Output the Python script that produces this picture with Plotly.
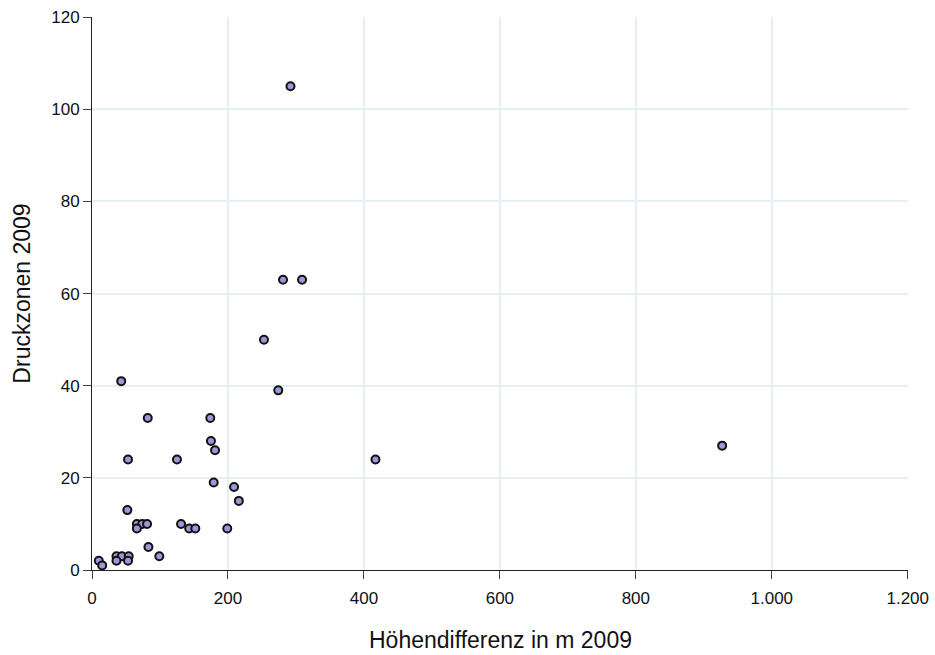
import plotly.graph_objects as go

hoehendifferenz = [292, 281, 309, 253, 274, 43, 82, 174, 175, 181, 53, 125, 417, 927,
                   179, 209, 216, 52, 66, 74, 81, 66, 131, 143, 152, 199, 83, 99,
                   36, 44, 54, 36, 53, 10, 15]
druckzonen = [105, 63, 63, 50, 39, 41, 33, 33, 28, 26, 24, 24, 24, 27,
              19, 18, 15, 13, 10, 10, 10, 9, 10, 9, 9, 9, 5, 3,
              3, 3, 3, 2, 2, 2, 1]

x_ticks = [0, 200, 400, 600, 800, 1000, 1200]
x_ticklabels = ["0", "200", "400", "600", "800", "1.000", "1.200"]
y_ticks = [0, 20, 40, 60, 80, 100, 120]
x_title = "Höhendifferenz in m 2009"
y_title = "Druckzonen 2009"

fig = go.Figure(go.Scatter(
    x=hoehendifferenz, y=druckzonen, mode="markers",
    marker=dict(size=8, color="#9b97d8", line=dict(color="#111111", width=2)),
    cliponaxis=False, showlegend=False,
))

fig.update_layout(
    width=935, height=655,
    margin=dict(l=92, r=27, t=17, b=85, autoexpand=False),
    paper_bgcolor="white", plot_bgcolor="white",
    font=dict(family="Liberation Sans, Arial, sans-serif", color="#111111", size=17),
    annotations=[dict(
        text=x_title, xref="paper", yref="paper", x=0.5, y=0,
        xanchor="center", yanchor="middle", yshift=-70, showarrow=False,
        font=dict(size=23),
    )],
)
fig.update_xaxes(
    range=[0, 1200.4], tickvals=x_ticks, ticktext=x_ticklabels,
    ticklabeloverflow="allow", ticklabelstandoff=5, automargin=False,
    showgrid=True, gridcolor="#e6f0f2", gridwidth=2,
    showline=True, linecolor="#222222", linewidth=1,
    ticks="outside", ticklen=8, tickcolor="#444444",
    zeroline=False,
)
fig.update_yaxes(
    range=[0, 120.05], tickvals=y_ticks,
    ticklabeloverflow="allow", automargin=False,
    showgrid=True, gridcolor="#e6f0f2", gridwidth=2,
    showline=True, linecolor="#222222", linewidth=1,
    ticks="outside", ticklen=8, tickcolor="#444444",
    zeroline=False,
    title=dict(text=y_title, font=dict(size=23), standoff=14),
)

fig.write_html(
    "out.html",
    config={"displayModeBar": False},
    post_script="document.body.style.margin='0';document.body.style.overflow='hidden';",
)
